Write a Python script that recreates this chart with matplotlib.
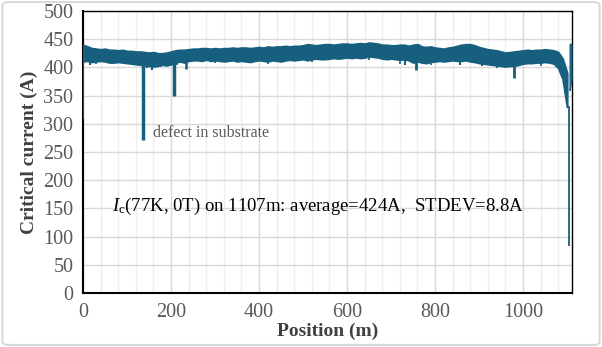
import numpy as np
import matplotlib
matplotlib.use("Agg")
import matplotlib.pyplot as plt
from matplotlib.patches import FancyBboxPatch

plt.rcParams['font.family'] = ['Liberation Serif', 'DejaVu Serif']
plt.rcParams['mathtext.fontset'] = 'custom'
plt.rcParams['mathtext.rm'] = 'Liberation Serif'
plt.rcParams['mathtext.it'] = 'Liberation Serif:italic'

# envelope of the Ic trace, read every 10 m
position = list(range(0, 1101, 10))
ic_top = [440, 437, 434, 433, 432, 433, 431, 431, 430, 431,
          429, 429, 428, 428, 427, 426, 427, 425, 425, 426,
          428, 430, 431, 431, 432, 433, 433, 434, 434, 433,
          434, 433, 434, 434, 435, 434, 435, 435, 434, 435,
          436, 435, 437, 436, 437, 437, 438, 437, 438, 438,
          439, 441, 440, 439, 440, 441, 441, 440, 441, 442,
          442, 441, 442, 443, 442, 444, 443, 442, 440, 440,
          439, 439, 440, 440, 438, 440, 441, 437, 436, 437,
          435, 434, 433, 435, 436, 438, 440, 441, 441, 439,
          436, 434, 432, 431, 430, 428, 426, 427, 428, 429,
          430, 431, 430, 431, 431, 432, 431, 430, 427, 415,
          390]
ic_bottom = [411, 412, 410, 411, 412, 411, 409, 409, 410, 409,
             408, 407, 406, 405, 404, 403, 402, 403, 405, 404,
             406, 409, 411, 409, 412, 413, 413, 412, 414, 412,
             413, 412, 411, 412, 413, 411, 412, 411, 410, 412,
             413, 412, 411, 413, 412, 411, 413, 414, 413, 414,
             415, 413, 415, 416, 415, 415, 416, 417, 416, 417,
             418, 417, 418, 417, 418, 420, 419, 418, 416, 415,
             416, 415, 414, 415, 413, 409, 411, 409, 408, 410,
             411, 412, 411, 412, 413, 412, 412, 413, 411, 410,
             408, 407, 406, 405, 404, 403, 402, 403, 403, 405,
             407, 408, 408, 409, 409, 410, 409, 407, 399, 380,
             330]

# last few metres after the end dip
end_pos = [1106, 1108, 1110]
end_top = [442, 442, 440]
end_bottom = [360, 370, 380]

# narrow dips below the band
dip_pos = [0, 16, 30, 68, 137, 145, 157, 175, 185, 207, 213, 234,
           300, 420, 520, 650, 720, 732, 756, 790, 857, 907, 940, 980, 1040, 1104]
dip_min = [308, 405, 407, 409, 272, 399, 395, 400, 403, 350, 404, 397,
           408, 407, 410, 413, 407, 404, 395, 404, 405, 403, 399, 381, 403, 83]
dip_width = [1.2, 1.5, 1.2, 1.2, 2.5, 1.5, 1.5, 1.5, 1.5, 2.5, 1.2, 1.8,
             1.2, 1.2, 1.2, 1.2, 1.2, 1.5, 2, 1.2, 1.5, 1.5, 1.2, 2, 1.2, 1.3]

line_color = '#175f7e'

fig = plt.figure(figsize=(6.02, 3.47), dpi=100)
ax = fig.add_axes([0.138, 0.156, 0.812, 0.812])

ax.fill_between(position, ic_bottom, ic_top, color=line_color, lw=1.5, edgecolor=line_color, zorder=3)
ax.fill_between(end_pos, end_bottom, end_top, color=line_color, lw=1.0, edgecolor=line_color, zorder=3)
for p, m, w in zip(dip_pos, dip_min, dip_width):
    base = np.interp(p, position, ic_bottom)
    ax.vlines(p, m, base + 2, color=line_color, lw=w, zorder=3)

ax.set_xlim(0, 1111)
ax.set_ylim(0, 500)
ax.set_xticks(range(0, 1001, 200))
ax.set_xticks(range(0, 1111, 40), minor=True)
ax.set_yticks(range(0, 501, 50))
ax.grid(True, which='major', color='#d9d9d9', lw=1.0, zorder=0)
ax.grid(True, which='minor', axis='x', color='#eeeeee', lw=1.0, zorder=0)
ax.tick_params(which='both', length=0, labelsize=14.5, labelcolor='#595959', pad=7)
for s in ax.spines.values():
    s.set_color('black')
    s.set_linewidth(1.0)
ax.spines['left'].set_linewidth(1.5)
ax.spines['bottom'].set_linewidth(1.5)

ax.set_xlabel('Position (m)', fontsize=14, fontweight='bold', color='#404040', labelpad=1)
ax.set_ylabel('Critical current (A)', fontsize=14, fontweight='bold', color='#404040', labelpad=4)

ax.text(159, 284, 'defect in substrate', fontsize=11.5, color='#595959', va='center')
ax.text(66, 153, r'$I_\mathrm{c}$(77K, 0T) on 1107m: average=424A,  STDEV=8.8A',
        fontsize=13.5, color='black', va='center')

frame = FancyBboxPatch((0.004, 0.006), 0.992, 0.988, boxstyle='round,pad=0,rounding_size=0.01',
                       transform=fig.transFigure, fill=False, edgecolor='#d9d9d9', lw=1.5)
fig.patches.append(frame)

fig.savefig('out.png', dpi=100)
